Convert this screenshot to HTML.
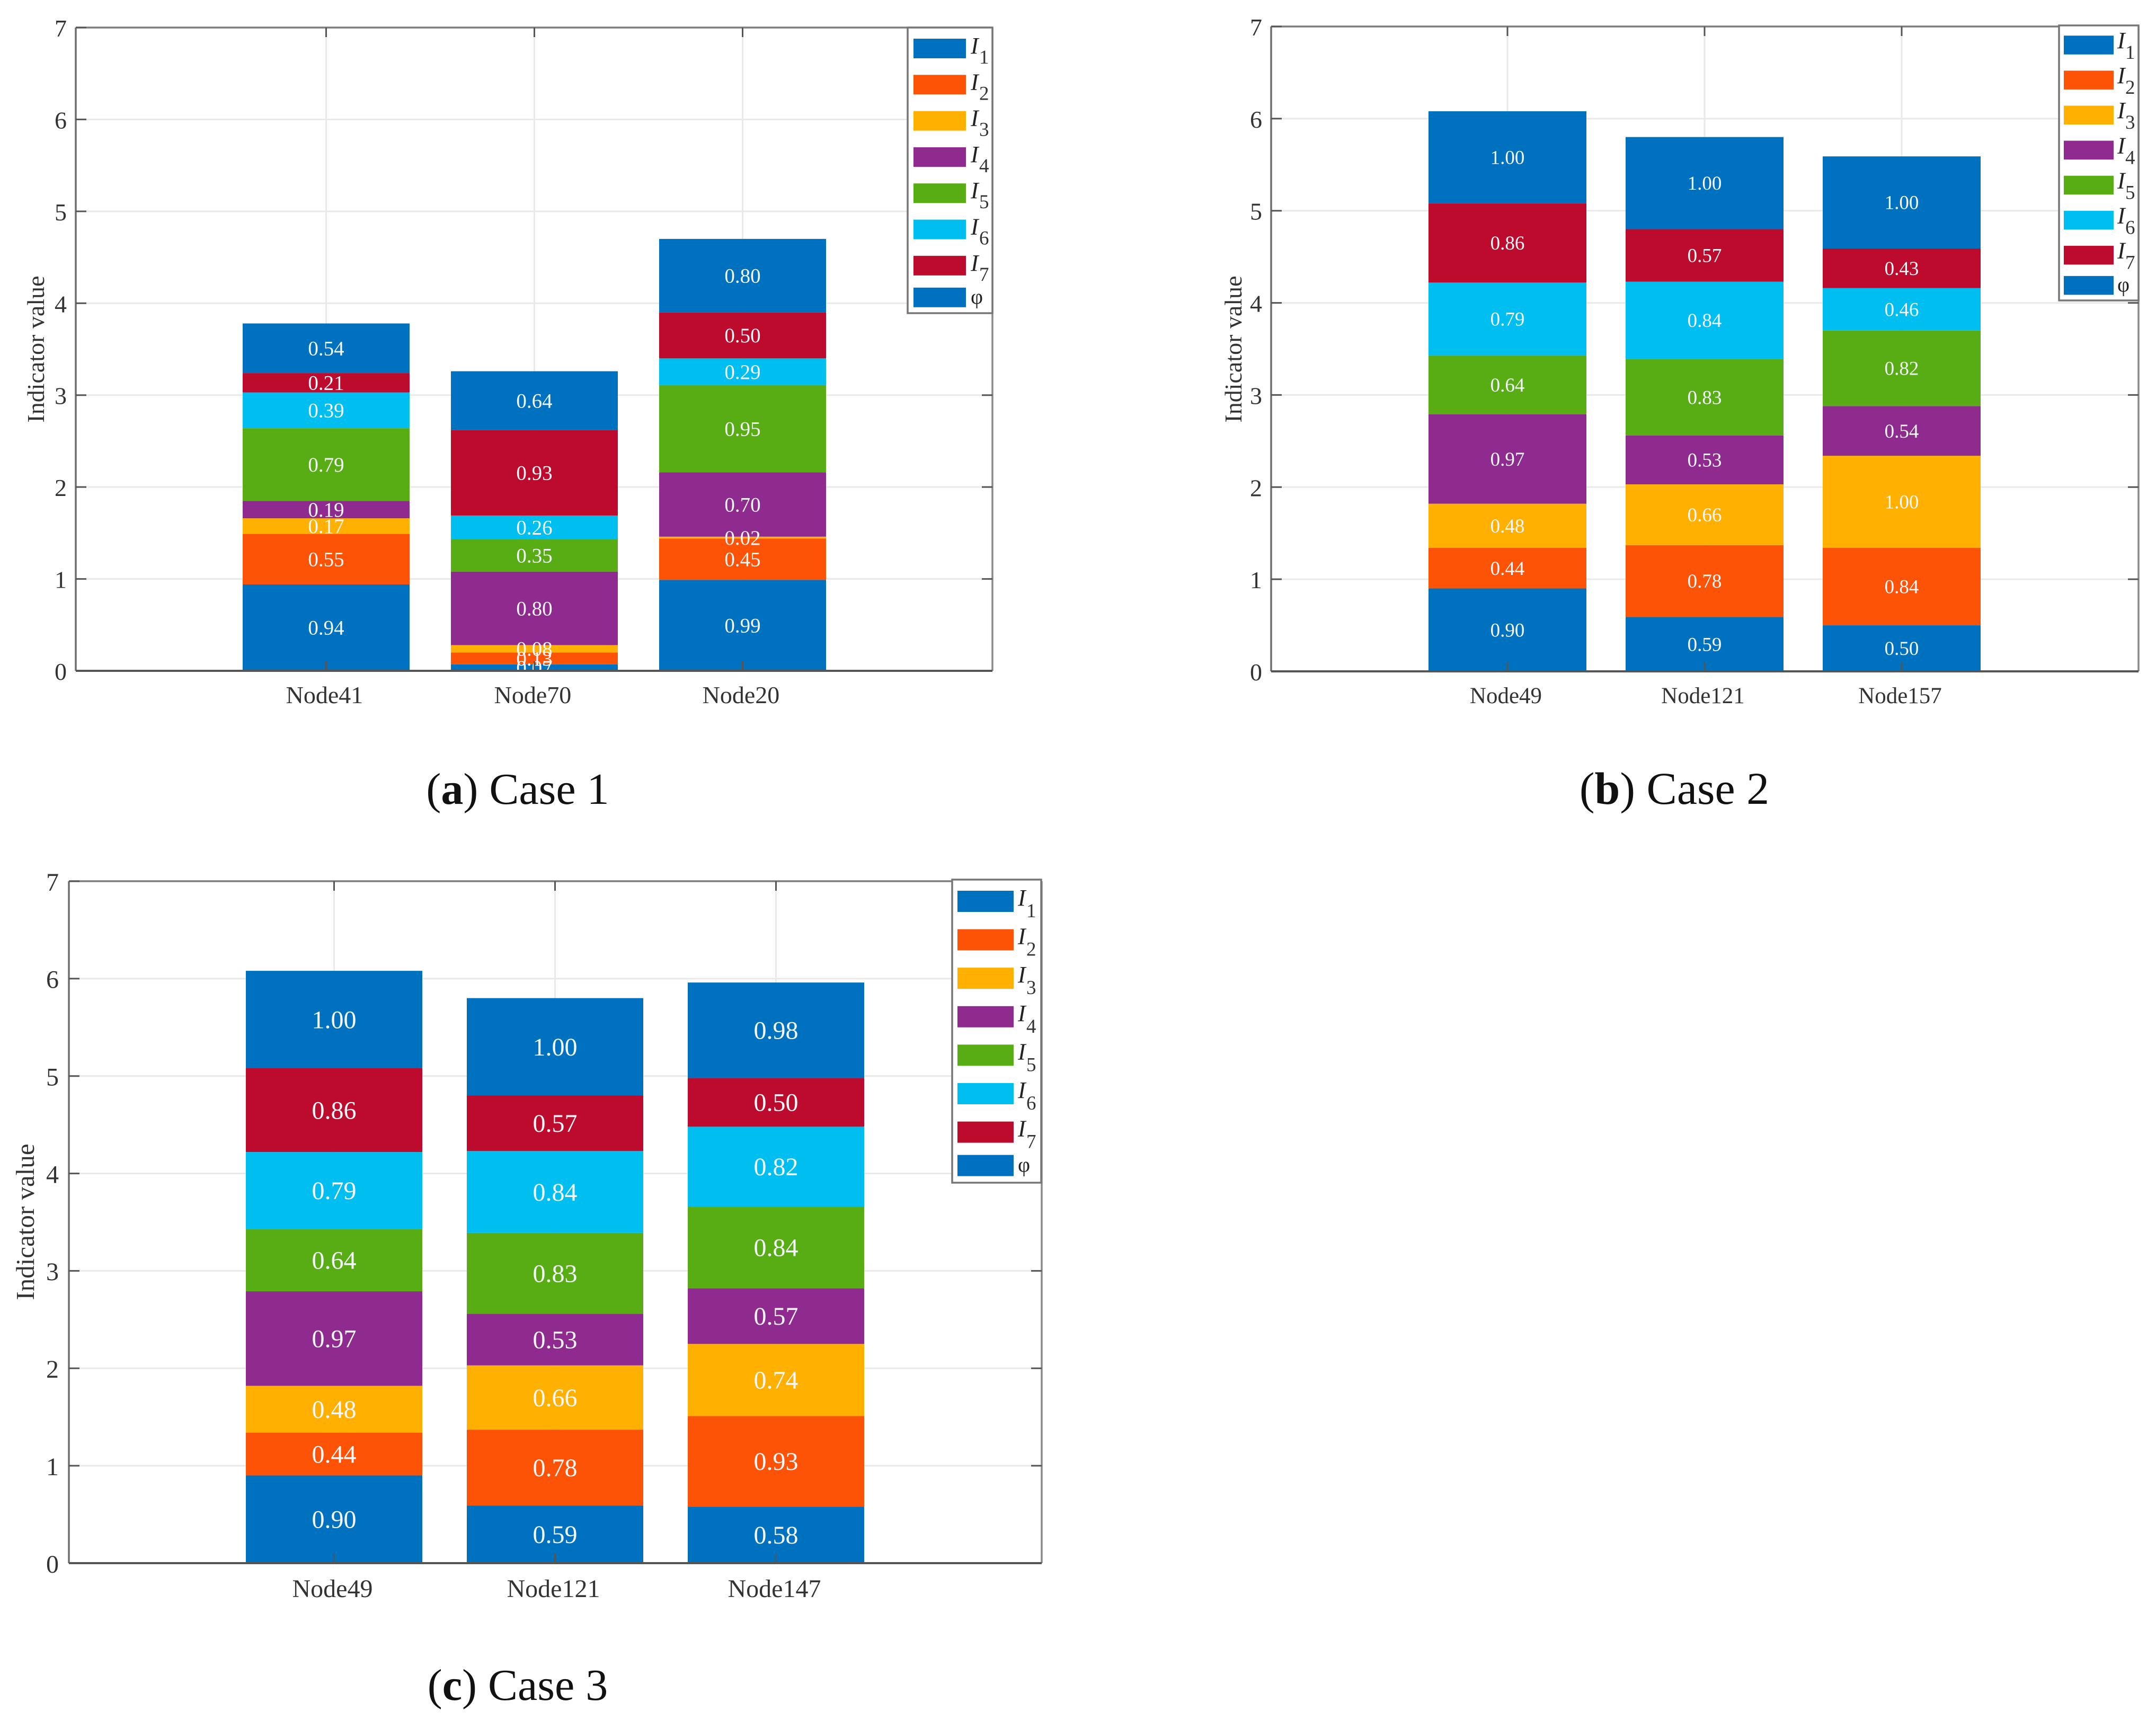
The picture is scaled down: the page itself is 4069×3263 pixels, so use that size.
<!DOCTYPE html>
<html lang="en">
<head>
<meta charset="utf-8">
<title>Indicator values by node for three cases</title>
<style>
html,body{margin:0;padding:0;background:#fff;}
svg{display:block;font-family:"Liberation Serif",serif;}
</style>
</head>
<body>
<svg id="fig" xmlns="http://www.w3.org/2000/svg" width="4069" height="3263" viewBox="0 0 4069 3263">
<rect width="4069" height="3263" fill="#ffffff"/>
<text x="977" y="1517" font-size="84" text-anchor="middle" fill="#111">(<tspan font-weight="bold">a</tspan>) Case 1</text>
<text x="3160" y="1517" font-size="86" text-anchor="middle" fill="#111">(<tspan font-weight="bold">b</tspan>) Case 2</text>
<text x="977" y="3208" font-size="84" text-anchor="middle" fill="#111">(<tspan font-weight="bold">c</tspan>) Case 3</text>
</svg>
<script>
// ---- data (stack order I1..I7, phi) ----
const yTickLabels = [0, 1, 2, 3, 4, 5, 6, 7];
const legendSubscripts = ["1", "2", "3", "4", "5", "6", "7"];
const legendLastLabel = "φ";
const seriesColors = ["#0071BF", "#FC5306", "#FFB000", "#8F2A8F", "#58AC14", "#00BEF0", "#BC0B2C", "#0071BF"];

const case1Categories = ["Node41", "Node70", "Node20"];
const case1Node41 = [0.94, 0.55, 0.17, 0.19, 0.79, 0.39, 0.21, 0.54];
const case1Node70 = [0.07, 0.13, 0.08, 0.80, 0.35, 0.26, 0.93, 0.64];
const case1Node20 = [0.99, 0.45, 0.02, 0.70, 0.95, 0.29, 0.50, 0.80];

const case2Categories = ["Node49", "Node121", "Node157"];
const case2Node49 = [0.90, 0.44, 0.48, 0.97, 0.64, 0.79, 0.86, 1.00];
const case2Node121 = [0.59, 0.78, 0.66, 0.53, 0.83, 0.84, 0.57, 1.00];
const case2Node157 = [0.50, 0.84, 1.00, 0.54, 0.82, 0.46, 0.43, 1.00];

const case3Categories = ["Node49", "Node121", "Node147"];
const case3Node49 = [0.90, 0.44, 0.48, 0.97, 0.64, 0.79, 0.86, 1.00];
const case3Node121 = [0.59, 0.78, 0.66, 0.53, 0.83, 0.84, 0.57, 1.00];
const case3Node147 = [0.58, 0.93, 0.74, 0.57, 0.84, 0.82, 0.50, 0.98];

// ---- layout of each panel ----
const panels = [
  { id: "case-1", cats: case1Categories, stacks: [case1Node41, case1Node70, case1Node20],
    left: 143, right: 1873, top: 52, bottom: 1266, first: 615.5, step: 393, barW: 315,
    valFont: 39, tickFont: 46, catFont: 46, catY: 1327, catDx: -3, titleFont: 46, titleX: 83, titleY: 659, tickLabelX: 126,
    leg: { x: 1713, y: 52, w: 160, h: 539, sx: 1724, sw: 99, sh: 37, c0: 91.5, dy: 68.3, lastDy: 60, tx: 1832, subX: 1848, base: 9.5, sub: 28.5 } },
  { id: "case-2", cats: case2Categories, stacks: [case2Node49, case2Node121, case2Node157],
    left: 2399, right: 4036, top: 50, bottom: 1267, first: 2845, step: 372, barW: 298,
    valFont: 37, tickFont: 46, catFont: 43, catY: 1327, catDx: -3, titleFont: 46, titleX: 2343, titleY: 659, tickLabelX: 2382,
    leg: { x: 3886, y: 48, w: 150, h: 519, sx: 3895, sw: 94, sh: 35.5, c0: 85, dy: 66.1, lastDy: 57, tx: 3996, subX: 4011, base: 6, sub: 26 } },
  { id: "case-3", cats: case3Categories, stacks: [case3Node49, case3Node121, case3Node147],
    left: 130, right: 1966, top: 1663, bottom: 2950, first: 630.5, step: 417, barW: 333,
    valFont: 48, tickFont: 48, catFont: 48, catY: 3014, catDx: -3, titleFont: 49, titleX: 64, titleY: 2306, tickLabelX: 111,
    leg: { x: 1797, y: 1660, w: 168, h: 572, sx: 1807, sw: 106, sh: 40, c0: 1701, dy: 72.6, lastDy: 63, tx: 1921, subX: 1937, base: 8, sub: 30 } }
];

const NS = "http://www.w3.org/2000/svg";
const fig = document.getElementById("fig");

function make(tag, attrs, parent, text) {
  const n = document.createElementNS(NS, tag);
  for (const k in attrs) n.setAttribute(k, attrs[k]);
  if (text !== undefined) n.textContent = text;
  parent.appendChild(n);
  return n;
}

panels.forEach(function (p) {
  const yScale = function (v) { return p.bottom - v * (p.bottom - p.top) / 7; };
  const xScale = function (i) { return p.first + i * p.step; };

  const g = make("g", {}, fig);
  
  

  // plot background and grid
  const grid = make("g", { stroke: "#e9e9e9", "stroke-width": 3 }, g);
  
  
  yTickLabels.forEach(function (t) {
    if (t === 0 || t === 7) return;
    const gl = make("line", { x1: p.left, x2: p.right, y1: yScale(t), y2: yScale(t) }, grid);
    
    
  });
  p.cats.forEach(function (c, i) {
    const gl = make("line", { x1: xScale(i), x2: xScale(i), y1: p.top, y2: p.bottom }, grid);
    
    
  });

  // stacked bars
  p.stacks.forEach(function (stack, i) {
    let base = 0;
    stack.forEach(function (v, s) {
      const r = make("rect", {
        x: xScale(i) - p.barW / 2,
        y: yScale(base + v),
        width: p.barW,
        height: yScale(base) - yScale(base + v),
        fill: seriesColors[s]
      }, g);
      
      
      base += v;
    });
  });

  // value labels (clipped at the x axis like the original)
  const clipId = "clip-" + p.id;
  const clip = make("clipPath", { id: clipId }, g);
  make("rect", { x: p.left, y: p.top, width: p.right - p.left, height: p.bottom - p.top }, clip);
  const labels = make("g", { "clip-path": "url(#" + clipId + ")", "font-size": p.valFont, "text-anchor": "middle", fill: "#f4f8fb" }, g);
  
  
  p.stacks.forEach(function (stack, i) {
    let base = 0;
    stack.forEach(function (v) {
      const mid = yScale(base + v / 2) + p.valFont * 0.34;
      const t = make("text", { x: xScale(i), y: mid }, labels, v.toFixed(2));
      
      
      base += v;
    });
  });

  // axes box
  const box = make("g", { fill: "none" }, g);
  
  
  const topLine = make("line", { x1: p.left, x2: p.right, y1: p.top, y2: p.top, stroke: "#7d7d7d", "stroke-width": 3.5 }, box);
  
  
  const rightLine = make("line", { x1: p.right, x2: p.right, y1: p.top, y2: p.bottom, stroke: "#8a8a8a", "stroke-width": 3.5 }, box);
  
  
  const leftLine = make("line", { x1: p.left, x2: p.left, y1: p.top, y2: p.bottom, stroke: "#6f6f6f", "stroke-width": 3.5 }, box);
  
  
  const bottomLine = make("line", { x1: p.left, x2: p.right, y1: p.bottom, y2: p.bottom, stroke: "#555555", "stroke-width": 4 }, box);
  
  

  // y ticks and labels
  yTickLabels.forEach(function (t) {
    const y = yScale(t);
    const a = make("line", { x1: p.left, x2: p.left + 20, y1: y, y2: y, stroke: "#555", "stroke-width": 3 }, box);
    
    
    const b = make("line", { x1: p.right - 20, x2: p.right, y1: y, y2: y, stroke: "#555", "stroke-width": 3 }, box);
    
    
    const lab = make("text", { x: p.tickLabelX, y: y + p.tickFont * 0.37, "font-size": p.tickFont, "text-anchor": "end", fill: "#333333" }, g, String(t));
    
    
  });

  // x ticks and labels
  p.cats.forEach(function (c, i) {
    const x = xScale(i);
    const a = make("line", { x1: x, x2: x, y1: p.bottom - 18, y2: p.bottom, stroke: "#555", "stroke-width": 3 }, box);
    
    
    const b = make("line", { x1: x, x2: x, y1: p.top, y2: p.top + 18, stroke: "#555", "stroke-width": 3 }, box);
    
    
    const lab = make("text", { x: x + p.catDx, y: p.catY, "font-size": p.catFont, "text-anchor": "middle", fill: "#333333" }, g, c);
    
    
  });

  // y axis title
  const title = make("text", {
    x: 0, y: 0, "font-size": p.titleFont, "text-anchor": "middle", fill: "#333333",
    transform: "translate(" + p.titleX + "," + p.titleY + ") rotate(-90)"
  }, g, "Indicator value");
  
  

  // legend
  const L = p.leg;
  const leg = make("g", {}, g);
  
  
  const frame = make("rect", { x: L.x, y: L.y, width: L.w, height: L.h, fill: "#ffffff", stroke: "#777777", "stroke-width": 3.5 }, leg);
  
  
  seriesColors.forEach(function (col, s) {
    const cy = s < 7 ? L.c0 + s * L.dy : L.c0 + 6 * L.dy + L.lastDy;
    const sw = make("rect", { x: L.sx, y: cy - L.sh / 2, width: L.sw, height: L.sh, fill: col }, leg);
    
    
    if (s < 7) {
      const it = make("text", { x: L.tx, y: cy + L.base, "font-size": 44, "font-style": "italic", fill: "#222" }, leg, "I");
      
      
      const su = make("text", { x: L.subX, y: cy + L.sub, "font-size": 37, fill: "#333" }, leg, legendSubscripts[s]);
      
      
    } else {
      const ph = make("text", { x: L.tx, y: cy + 12, "font-size": 40, fill: "#222" }, leg, legendLastLabel);
      
      
    }
  });
});
</script>
</body>
</html>
